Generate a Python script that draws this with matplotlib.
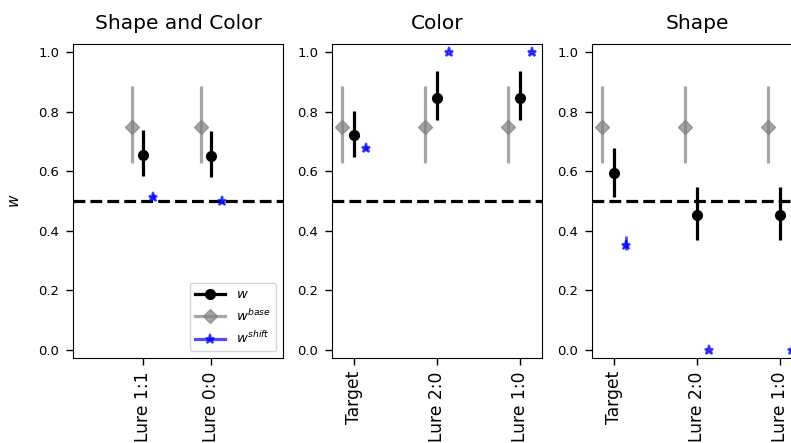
import matplotlib
matplotlib.use("Agg")
import matplotlib.pyplot as plt
from matplotlib.lines import Line2D

titles = ["Shape and Color", "Color", "Shape"]
categories = [["Lure 1:1", "Lure 0:0"],
              ["Target", "Lure 2:0", "Lure 1:0"],
              ["Target", "Lure 2:0", "Lure 1:0"]]

# w (black): mean, lower, upper
w_mean = [[0.654, 0.651], [0.720, 0.847, 0.847], [0.593, 0.454, 0.454]]
w_low = [[0.583, 0.581], [0.649, 0.771, 0.771], [0.514, 0.370, 0.370]]
w_high = [[0.738, 0.736], [0.803, 0.936, 0.936], [0.677, 0.548, 0.548]]

# w_base (gray)
base_mean = 0.748
base_low = 0.626
base_high = 0.887

# w_shift (blue)
shift_mean = [[0.514, 0.499], [0.677, 1.0, 1.0], [0.351, 0.0, 0.0]]
shift_low = [[0.506, 0.494], [0.670, 1.0, 1.0], [0.334, 0.0, 0.0]]
shift_high = [[0.522, 0.504], [0.684, 1.0, 1.0], [0.383, 0.0, 0.0]]

fig = plt.figure(figsize=(7.91, 4.43), dpi=100)
W, H = 791, 443
lefts = [73, 332, 592]
axes = []
for i in range(3):
    ax = fig.add_axes([lefts[i] / W, (H - 358) / H, 210 / W, (358 - 44) / H])
    axes.append(ax)

for i, ax in enumerate(axes):
    n = len(categories[i])
    x = list(range(n))
    xb = [v - 0.15 for v in x]
    xs = [v + 0.15 for v in x]
    bm = [base_mean] * n
    ax.errorbar(xb, bm, yerr=[[base_mean - base_low] * n, [base_high - base_mean] * n],
                fmt="D", color="gray", alpha=0.7, markersize=7, elinewidth=2.3, capsize=0)
    ax.errorbar(x, w_mean[i],
                yerr=[[m - l for m, l in zip(w_mean[i], w_low[i])],
                      [h - m for m, h in zip(w_mean[i], w_high[i])]],
                fmt="o", color="black", markersize=7, elinewidth=2.3, capsize=0)
    ax.errorbar(xs, shift_mean[i],
                yerr=[[m - l for m, l in zip(shift_mean[i], shift_low[i])],
                      [h - m for m, h in zip(shift_mean[i], shift_high[i])]],
                fmt="*", color="blue", alpha=0.7, markersize=6.5, markeredgewidth=1.5,
                elinewidth=2, capsize=0)
    ax.axhline(0.5, color="black", linestyle="--", linewidth=2.3)
    ax.set_xticks(x)
    ax.set_xticklabels(categories[i], rotation=90)
    ax.set_title(titles[i], fontsize=14.5, pad=11)
    ax.set_ylim(-0.028, 1.027)
    ax.set_yticks([0.0, 0.2, 0.4, 0.6, 0.8, 1.0])
    ax.tick_params(labelsize=9.5, length=5, width=1, pad=5)
    ax.tick_params(axis="x", labelsize=12.3, pad=4.5)
    if i == 0:
        ax.set_xlim(-1.01, 2.04)
    else:
        ax.set_xlim(-0.265, 2.265)

axes[0].set_ylabel("$w$", fontsize=11)
axes[0].yaxis.set_label_coords(-0.245, 0.5)

handles = [Line2D([], [], color="black", marker="o", lw=2.3, markersize=7),
           Line2D([], [], color="gray", alpha=0.7, marker="D", lw=2.3, markersize=7),
           Line2D([], [], color="blue", alpha=0.7, marker="*", lw=2.3, markersize=6.5,
                  markeredgewidth=1.5)]
axes[0].legend(handles, ["$w$", "$w^{base}$", "$w^{shift}$"], loc="lower right",
               fontsize=9.5, handlelength=2.3)

fig.savefig("out.png", dpi=100)
